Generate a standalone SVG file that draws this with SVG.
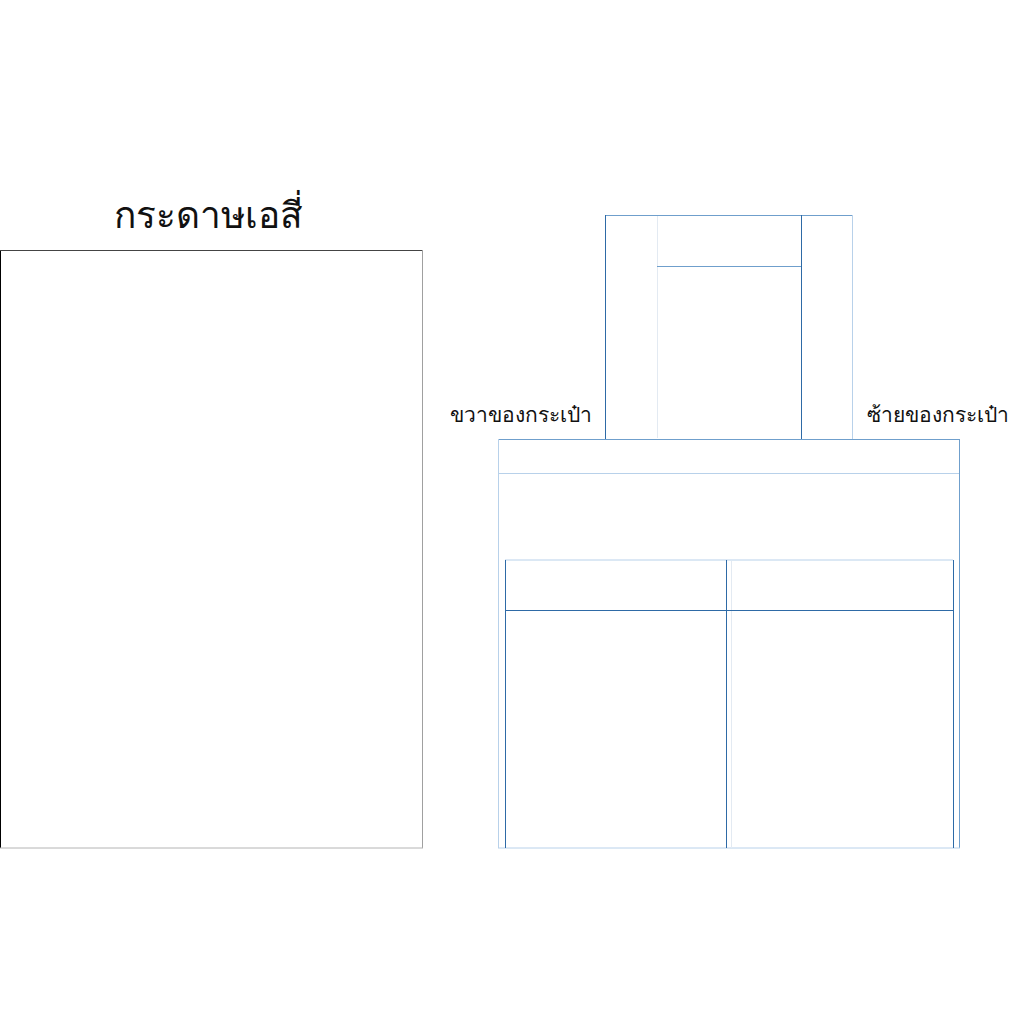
<svg xmlns="http://www.w3.org/2000/svg" width="1024" height="1024" viewBox="0 0 1024 1024">
<style>
.t{font-family:"DejaVu Sans","Noto Sans",sans-serif;fill:#111}
.ln{fill:none;stroke-width:1}
.dark{stroke:#2e6aa6}
.mid{stroke:#6f9fcc}
.light{stroke:#b8d1ea}
.faint{stroke:#e3eaf2}
</style>
<rect width="1024" height="1024" fill="#fff"/>
<g id="a4">
<text class="t" x="208" y="228" font-size="37" text-anchor="middle">กระดาษเอสี่</text>
<line class="ln" x1="0.5" y1="250" x2="0.5" y2="848" stroke="#000"/>
<line class="ln" x1="0" y1="250.5" x2="422" y2="250.5" stroke="#444"/>
<line class="ln" x1="422.5" y1="250" x2="422.5" y2="848" stroke="#a0a0a0"/>
<line class="ln" x1="0" y1="848" x2="423" y2="848" stroke="#b4b4b4" stroke-width="1.5"/>
</g>
<g id="handle">
<line class="ln mid" x1="605" y1="215.5" x2="852" y2="215.5"/>
<line class="ln dark" x1="605.5" y1="215" x2="605.5" y2="439"/>
<line class="ln faint" x1="657.5" y1="216" x2="657.5" y2="438"/>
<line class="ln mid" x1="657" y1="266.5" x2="801" y2="266.5"/>
<line class="ln dark" x1="801.5" y1="215" x2="801.5" y2="439"/>
<line class="ln light" x1="852.5" y1="215" x2="852.5" y2="439"/>
</g>
<g id="body">
<line class="ln mid" x1="498" y1="439.5" x2="960" y2="439.5"/>
<line class="ln light" x1="498" y1="473.5" x2="959" y2="473.5"/>
<line class="ln light" x1="498.5" y1="439" x2="498.5" y2="848"/>
<line class="ln mid" x1="959.5" y1="439" x2="959.5" y2="848"/>
<line class="ln light" x1="498" y1="848" x2="960" y2="848" stroke-width="1.5"/>
</g>
<g id="table">
<line class="ln light" x1="505" y1="560" x2="953" y2="560" stroke-width="1.5"/>
<line class="ln dark" x1="505.5" y1="560" x2="505.5" y2="848"/>
<line class="ln dark" x1="726.5" y1="560" x2="726.5" y2="848"/>
<line class="ln faint" x1="731.5" y1="561" x2="731.5" y2="848"/>
<line class="ln dark" x1="953.5" y1="560" x2="953.5" y2="848"/>
<line class="ln dark" x1="505" y1="610.5" x2="954" y2="610.5"/>
</g>
<g id="labels">
<text class="t" x="592" y="422" font-size="21" text-anchor="end">ขวาของกระเป๋า</text>
<text class="t" x="867" y="422" font-size="21">ซ้ายของกระเป๋า</text>
</g>
</svg>
